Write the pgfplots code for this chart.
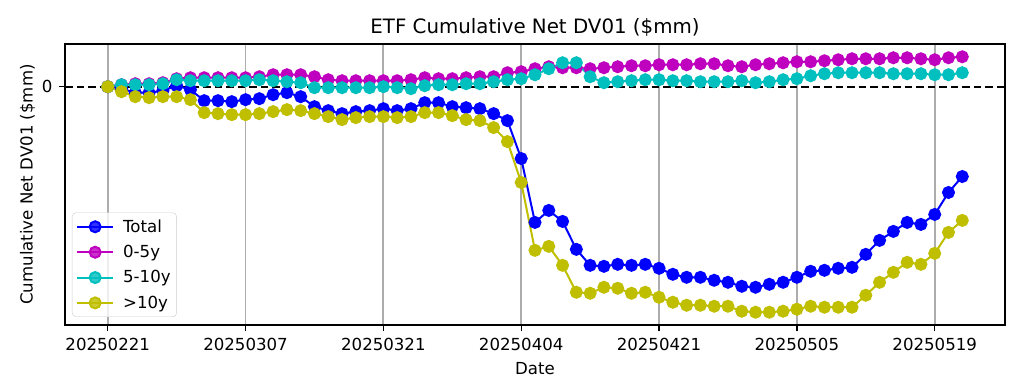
\documentclass[border=0pt]{standalone}
\usepackage{pgfplots}
\pgfplotsset{compat=1.18}
\usepackage{fontspec}
\setmainfont{DejaVu Sans}
\definecolor{mplb}{rgb}{0,0,1}
\definecolor{mplm}{rgb}{0.75,0,0.75}
\definecolor{mplc}{rgb}{0,0.75,0.75}
\definecolor{mply}{rgb}{0.75,0.75,0}
\pgfplotstableread{
i total m c y
0 0 0 0 0
1 -2 2 2 -5
2 -6 3 2 -10
3 -6 3 2 -11
4 -4 4 3 -10
5 1 8 7 -10
6 -3 9 6 -13
7 -14 9 6 -26
8 -14 9 6 -27
9 -15 9 6 -28
10 -13 9 6 -28
11 -12 10 7 -27
12 -8 12 6 -25
13 -6 12 5 -23
14 -10 12 4 -24
15 -20 10 -1 -27
16 -24 7 -1 -30
17 -27 6 -1 -33
18 -25 6 -1 -31
19 -24 6 -1 -30
20 -22 6 0 -30
21 -24 6 -1 -31
22 -22 7 -2 -30
23 -16 9 1 -26
24 -16 8 2 -26
25 -20 8 2 -29
26 -21 9 3 -33
27 -22 10 3 -34
28 -27 10 5 -41
29 -34 14 7 -55
30 -72 15 8 -96
31 -136 18 12 -164
32 -124 20 18 -160
33 -135 19 24 -179
34 -163 19 24 -206
35 -179 18 10 -207
36 -180 19 4 -201
37 -178 20 5 -202
38 -179 21 6 -207
39 -178 21 7 -206
40 -182 22 7 -211
41 -188 22 6 -216
42 -191 22 6 -219
43 -191 23 5 -219
44 -194 23 5 -220
45 -196 21 5 -220
46 -200 20 6 -225
47 -201 22 4 -226
48 -198 23 5 -226
49 -196 24 7 -225
50 -191 25 8 -223
51 -185 25 11 -220
52 -184 26 13 -221
53 -182 27 14 -221
54 -181 28 14 -221
55 -168 28 14 -209
56 -154 28 14 -196
57 -145 29 13 -186
58 -136 29 13 -176
59 -138 28 13 -178
60 -128 27 12 -167
61 -106 29 12 -146
62 -90 30 14 -134
}\data
\begin{document}
\begin{tikzpicture}
\useasboundingbox (-65pt,-54pt) rectangle (959pt,325pt);
\begin{axis}[
  at={(0pt,0pt)}, anchor=south west,
  scale only axis, width=940pt, height=281pt,
  xmin=-3.1, xmax=65.1, ymin=-238.8, ymax=42.8,
  xtick={0,10,20,30,40,50,60},
  xticklabels={20250221,20250307,20250321,20250404,20250421,20250505,20250519},
  ytick={0}, yticklabels={0},
  xmajorgrids, grid style={color=black!32, line width=1.8pt},
  tick align=outside, tick pos=left, major tick length=6pt,
  every tick/.style={black, line width=1.3pt},
  axis line style={line width=1.4pt},
  /pgf/number format/assume math mode=true,
  tick label style={font=\fontsize{16.6}{19}\selectfont},
  xticklabel style={yshift=-4pt},
  yticklabel style={xshift=-3pt},
  label style={font=\fontsize{16.6}{19}\selectfont},
  xlabel style={yshift=-4pt},
  title={ETF Cumulative Net DV01 (\$mm)},
  title style={font=\fontsize{19.8}{22}\selectfont, yshift=-2pt},
  xlabel={Date}, ylabel={Cumulative Net DV01 (\$mm)},
  legend cell align=left,
  legend image code/.code={\draw[mark repeat=2,mark phase=2] plot coordinates {(0pt,0pt) (18pt,0pt) (36pt,0pt)};},
  legend style={at={(0.0074,0.0285)}, anchor=south west, draw=black!20, rounded corners=4pt,
    font=\fontsize{16.6}{19}\selectfont, fill=white, fill opacity=0.8, text opacity=1,
    row sep=7.5pt, inner xsep=4pt, inner ysep=5pt,
    /tikz/column 1/.style={column sep=7pt}},
  every axis plot/.append style={line width=2pt, mark=*, mark size=5.5pt},
]
\draw[black, line width=2.2pt, dash pattern=on 7.5pt off 4pt] (axis cs:-3.1,0) -- (axis cs:65.1,0);
\addplot[color=mplb, mark options={fill=mplb}] table[x=i,y=total]{\data};
\addlegendentry{Total}
\addplot[color=mplm, mark options={fill=mplm}] table[x=i,y=m]{\data};
\addlegendentry{0-5y}
\addplot[color=mplc, mark options={fill=mplc}] table[x=i,y=c]{\data};
\addlegendentry{5-10y}
\addplot[color=mply, mark options={fill=mply}] table[x=i,y=y]{\data};
\addlegendentry{>10y}
\end{axis}
\end{tikzpicture}
\end{document}
